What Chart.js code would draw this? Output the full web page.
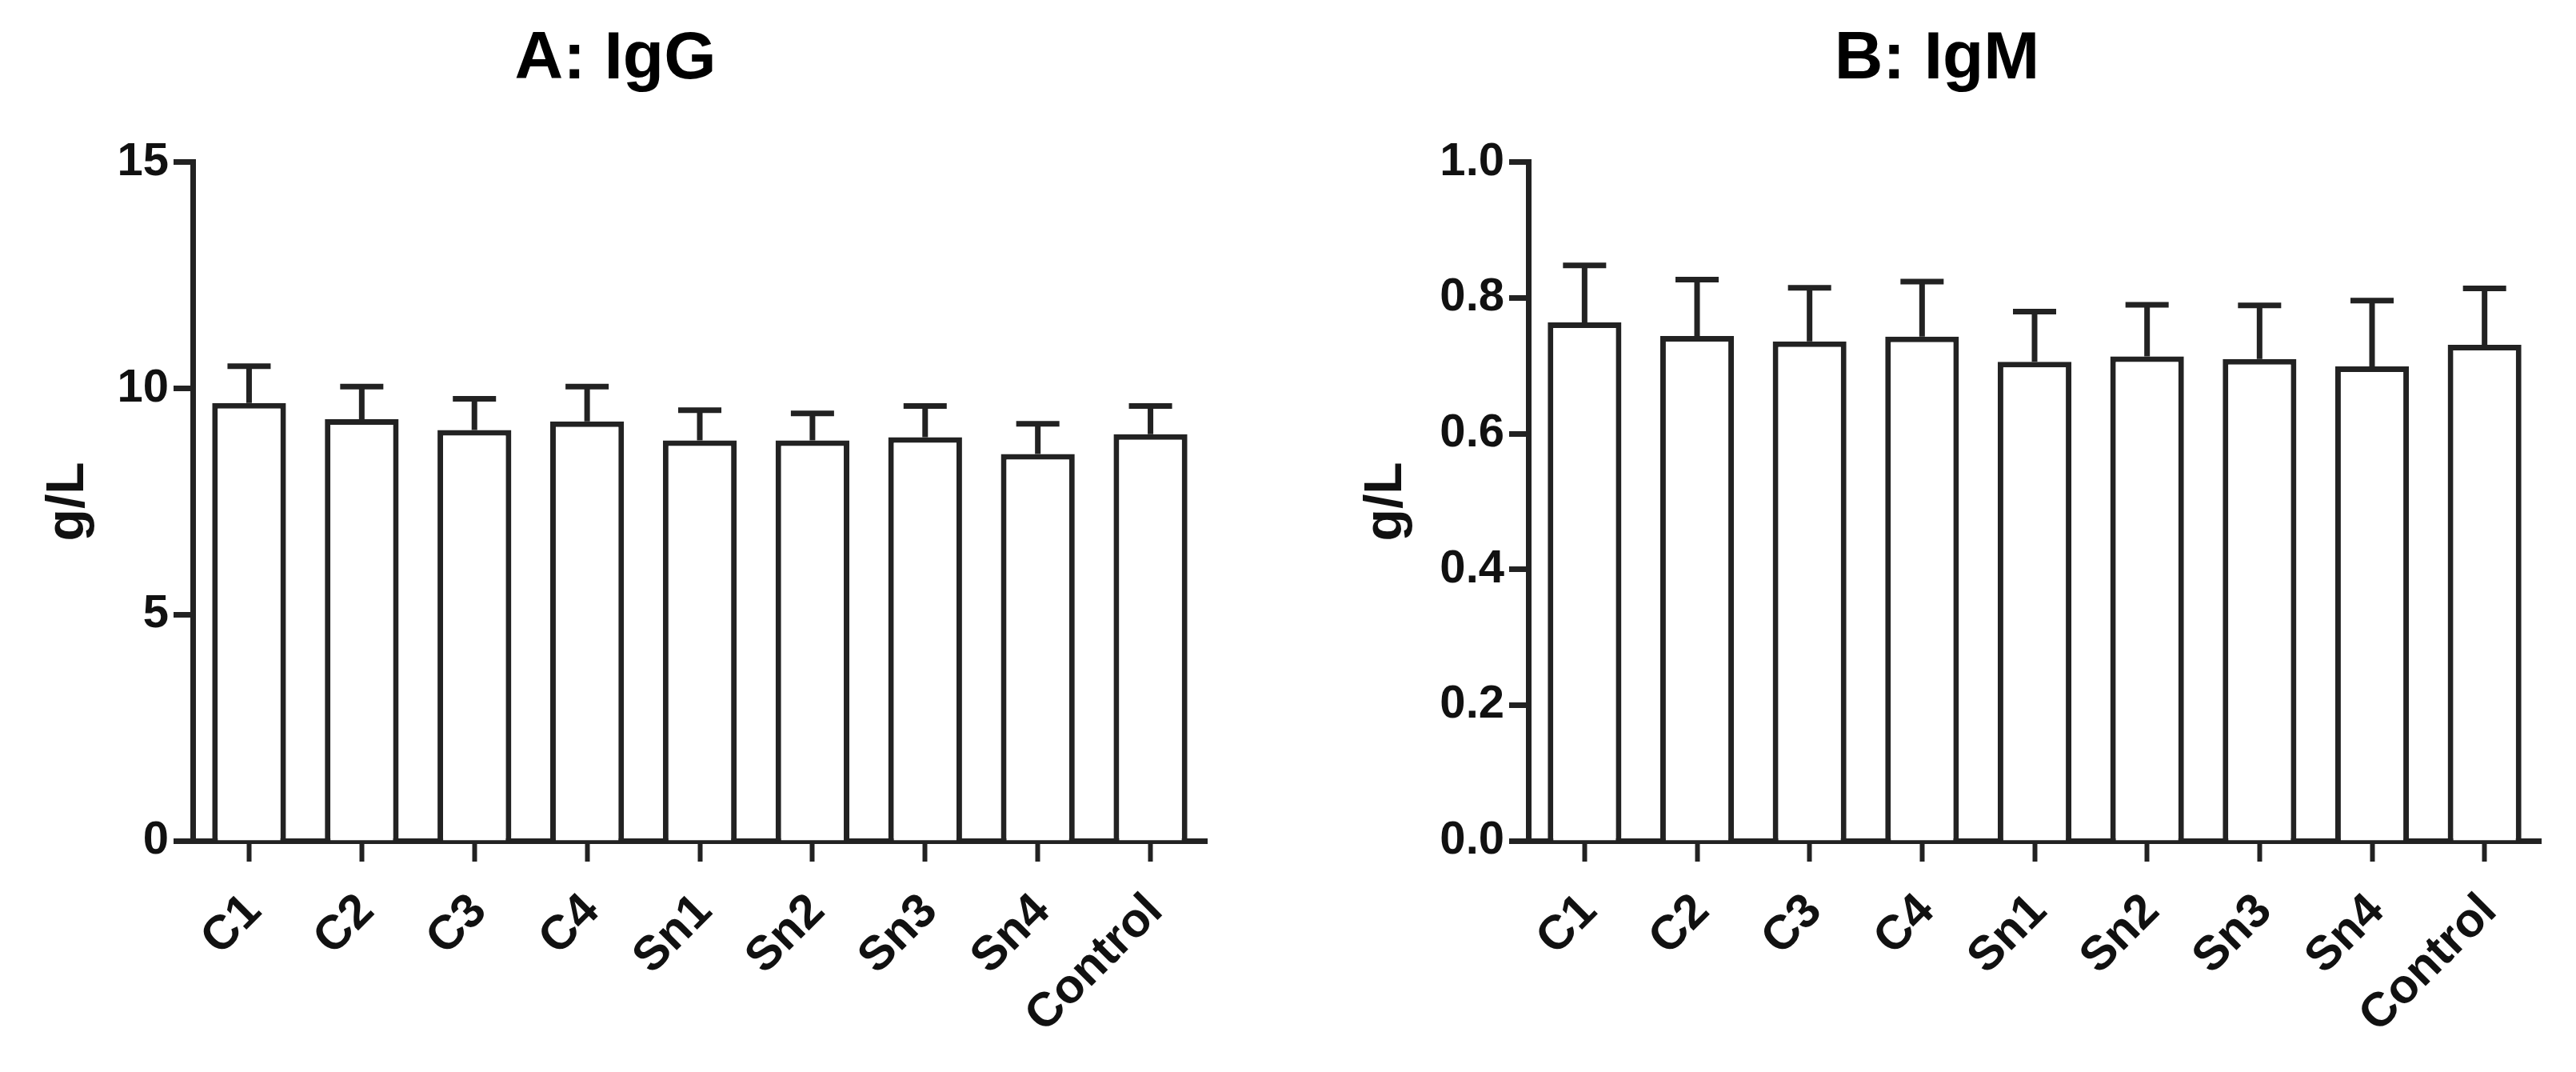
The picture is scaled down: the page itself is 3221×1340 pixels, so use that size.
<!DOCTYPE html>
<html>
<head>
<meta charset="utf-8">
<script src="https://cdn.jsdelivr.net/npm/chart.js@4.4.1/dist/chart.umd.min.js"></script>
<style>
  html, body { margin: 0; padding: 0; background: #fff; }
  #wrap { position: relative; width: 3221px; height: 1340px; background: #fff; }
  canvas { position: absolute; top: 0; }
  #chartA { left: 0; }
  #chartB { left: 1610px; }
</style>
</head>
<body>
<div id="wrap">
  <canvas id="chartA" width="1610" height="1340"></canvas>
  <canvas id="chartB" width="1611" height="1340"></canvas>
</div>
<script>
// groups on the x axis (same for both panels)
var groups = ['C1', 'C2', 'C3', 'C4', 'Sn1', 'Sn2', 'Sn3', 'Sn4', 'Control'];

// A: IgG, g/L
var iggMean = [9.68, 9.32, 9.08, 9.27, 8.85, 8.85, 8.92, 8.55, 8.99];
var iggErr  = [0.81, 0.72, 0.69, 0.77, 0.67, 0.60, 0.69, 0.67, 0.62];
var iggTicks = [0, 5, 10, 15];

// B: IgM, g/L
var igmMean = [0.764, 0.744, 0.736, 0.743, 0.706, 0.714, 0.710, 0.699, 0.731];
var igmErr  = [0.084, 0.083, 0.079, 0.081, 0.074, 0.076, 0.079, 0.097, 0.083];
var igmTicks = [0, 0.2, 0.4, 0.6, 0.8, 1.0];

var ink = '#222';
Chart.defaults.font.family = '"Liberation Sans", Arial, sans-serif';
Chart.defaults.color = '#111';

// mean + error whisker (upper only), drawn on top of each bar
var errorBars = {
  id: 'errorBars',
  afterDatasetsDraw: function(chart, args, opts) {
    var ctx = chart.ctx;
    var meta = chart.getDatasetMeta(0);
    var yScale = chart.scales.y;
    var means = chart.data.datasets[0].data;
    ctx.save();
    ctx.strokeStyle = ink;
    ctx.lineWidth = opts.lineWidth;
    meta.data.forEach(function(bar, i) {
      var top = yScale.getPixelForValue(means[i] + opts.errors[i]);
      ctx.beginPath();
      ctx.moveTo(bar.x, bar.y);
      ctx.lineTo(bar.x, top);
      ctx.moveTo(bar.x - opts.capWidth / 2, top);
      ctx.lineTo(bar.x + opts.capWidth / 2, top);
      ctx.stroke();
    });
    ctx.restore();
  }
};

function makePanel(id, title, means, errs, ticks, decimals, pad, yWidth, yTitlePad) {
  var ctx = document.getElementById(id).getContext('2d');
  return new Chart(ctx, {
    type: 'bar',
    data: {
      labels: groups,
      datasets: [{
        data: means,
        backgroundColor: '#fff',
        borderColor: ink,
        borderWidth: 7,
        categoryPercentage: 1,
        barPercentage: 0.655
      }]
    },
    options: {
      responsive: false,
      animation: false,
      layout: { padding: { left: pad.left, right: pad.right, top: 0, bottom: 0 } },
      plugins: {
        legend: { display: false },
        tooltip: { enabled: false },
        title: {
          display: true,
          text: title,
          color: '#000',
          font: { size: 84, weight: 'bold' },
          padding: { top: 24, bottom: 78 }
        },
        errorBars: { errors: errs, capWidth: 54, lineWidth: 7 }
      },
      scales: {
        x: {
          offset: true,
          border: { display: true, color: ink, width: 7 },
          grid: { display: true, drawOnChartArea: false, offset: false, tickLength: 26, tickWidth: 6, tickColor: ink },
          ticks: {
            autoSkip: false, minRotation: 45, maxRotation: 45,
            padding: 27, labelOffset: 6,
            color: '#111',
            font: { size: 60, weight: 'bold' }
          },
          afterFit: function(scale) { scale.height = 289; }
        },
        y: {
          min: ticks[0],
          max: ticks[ticks.length - 1],
          border: { display: true, color: ink, width: 7 },
          grid: { display: true, drawOnChartArea: false, tickLength: 24, tickWidth: 7, tickColor: ink },
          afterBuildTicks: function(scale) {
            scale.ticks = ticks.map(function(v) { return { value: v }; });
          },
          ticks: {
            padding: 6,
            color: '#111',
            font: { size: 58, weight: 'bold' },
            callback: function(v) { return Number(v).toFixed(decimals); }
          },
          title: {
            display: true,
            text: 'g/L',
            color: '#111',
            font: { size: 66, weight: 'bold' },
            padding: { top: yTitlePad, bottom: 0 }
          },
          afterFit: function(scale) { scale.width = yWidth; }
        }
      }
    },
    plugins: [errorBars]
  });
}

makePanel('chartA', 'A: IgG', iggMean, iggErr, iggTicks, 0, { left: 30, right: 101 }, 211, 16);
makePanel('chartB', 'B: IgM', igmMean, igmErr, igmTicks, 1, { left: 57, right: 44 }, 244, 27);
</script>
</body>
</html>
